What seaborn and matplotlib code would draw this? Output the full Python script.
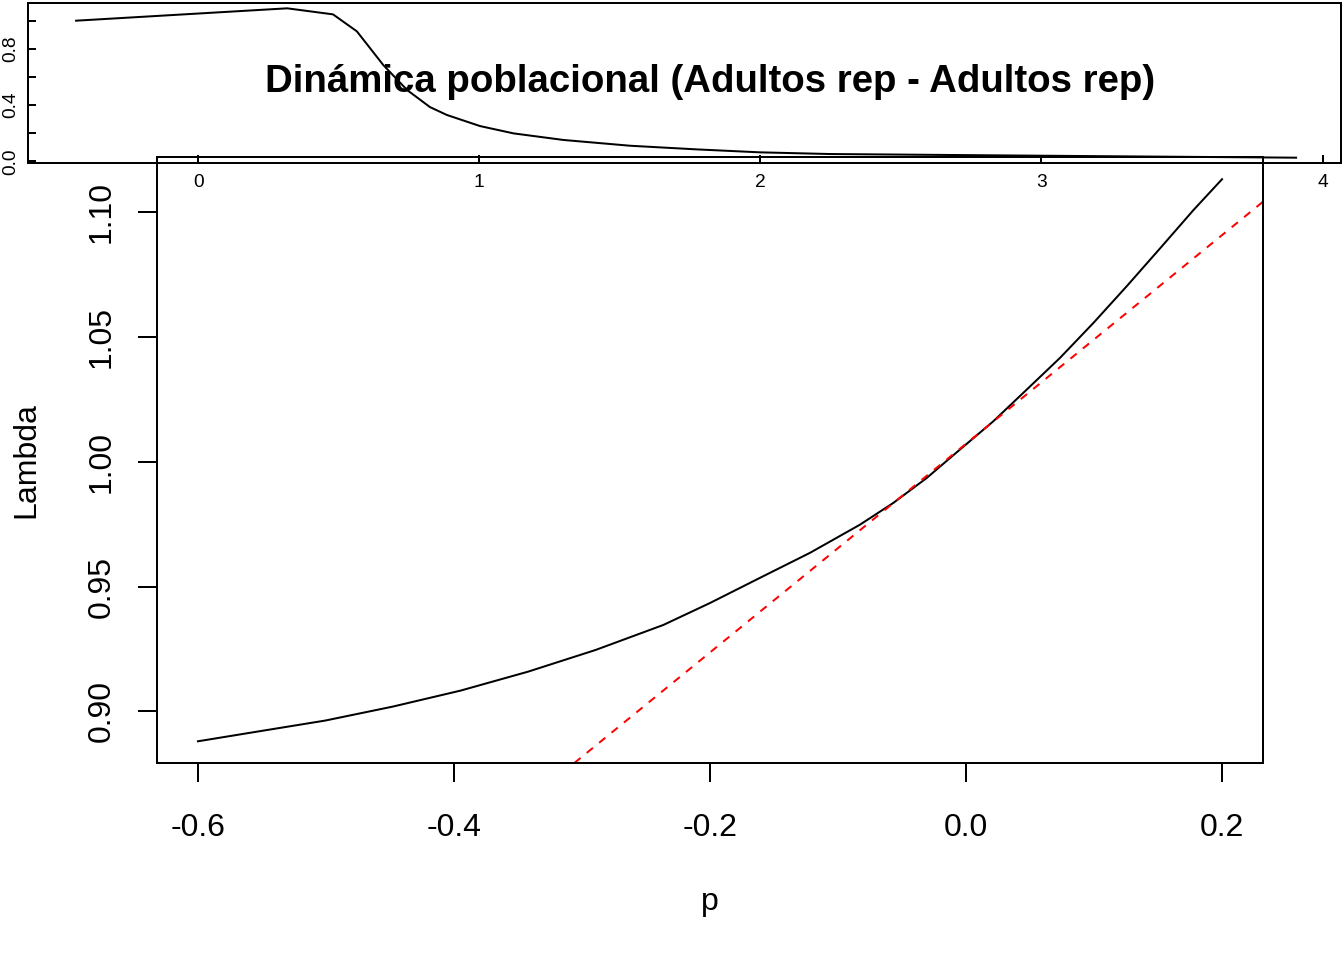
import matplotlib
matplotlib.use("Agg")
import matplotlib.pyplot as plt
import seaborn as sns
import pandas as pd

# ---- data ----
p_vals = [-0.6, -0.5534, -0.5006, -0.4478, -0.3949, -0.3421, -0.2893, -0.2365, -0.2,
          -0.1609, -0.1219, -0.0828, -0.0568, -0.0307, -0.0047, 0.0213, 0.0474,
          0.0734, 0.0995, 0.1255, 0.1516, 0.1776, 0.2]
lambda_vals = [0.8880, 0.8919, 0.8963, 0.9019, 0.9083, 0.9159, 0.9246, 0.9346, 0.9434,
               0.9535, 0.9635, 0.9748, 0.9835, 0.9935, 1.0049, 1.0162, 1.0289,
               1.0416, 1.0556, 1.0703, 1.0855, 1.1008, 1.1132]
tangent_intercept = 1.0072
tangent_slope = 0.418

inset_x = [-0.434, 0.317, 0.480, 0.565, 0.659, 0.744, 0.825, 0.885, 1.003, 1.122,
           1.300, 1.537, 1.774, 1.999, 2.248, 3.0, 3.906]
inset_y = [1.001, 1.089, 1.046, 0.925, 0.685, 0.507, 0.386, 0.330, 0.251, 0.199,
           0.152, 0.111, 0.085, 0.064, 0.052, 0.040, 0.026]

main_xticks = [-0.6, -0.4, -0.2, 0.0, 0.2]
main_xticklabels = ["-0.6", "-0.4", "-0.2", "0.0", "0.2"]
main_yticks = [0.90, 0.95, 1.00, 1.05, 1.10]
main_yticklabels = ["0.90", "0.95", "1.00", "1.05", "1.10"]
inset_xticks = [0, 1, 2, 3, 4]
inset_xticklabels = ["0", "1", "2", "3", "4"]
inset_yticks = [0.0, 0.2, 0.4, 0.6, 0.8, 1.0]
inset_yticklabels = ["0.0", "", "0.4", "", "0.8", ""]

title = "Dinámica poblacional (Adultos rep - Adultos rep)"
xlabel = "p"
ylabel = "Lambda"

# ---- style ----
plt.rcParams['font.family'] = ['Liberation Sans', 'DejaVu Sans']
plt.rcParams['axes.linewidth'] = 0.75
plt.rcParams['axes.edgecolor'] = 'black'

W, H = 1344, 960
fig = plt.figure(figsize=(7, 5), dpi=192)
fig.patch.set_facecolor('white')

# ---- main plot ----
ax = fig.add_axes([157 / W, 1 - 763 / H, (1263 - 157) / W, (763 - 157) / H])
ax.set_facecolor('white')
df_main = pd.DataFrame({"p": p_vals, "Lambda": lambda_vals})
sns.lineplot(data=df_main, x="p", y="Lambda", ax=ax, color='black', linewidth=0.75,
             estimator=None)
ax.axline((0, tangent_intercept), slope=tangent_slope, color='#FF0000',
          linewidth=0.75, dashes=(4, 4))
ax.set_xlim(-0.632, 0.232)
ax.set_ylim(0.8793, 1.1221)
ax.set_xticks(main_xticks, main_xticklabels)
ax.set_yticks(main_yticks, main_yticklabels, rotation=90, va='center')
ax.tick_params(axis='both', direction='out', length=7.2, width=0.75, labelsize=12,
               colors='black')
ax.tick_params(axis='x', pad=11.4)
ax.tick_params(axis='y', pad=7.9)
ax.set_xlabel(xlabel, fontsize=12)
ax.set_ylabel(ylabel, fontsize=12)
ax.xaxis.set_label_coords(0.5, (763 - 887) / 606)
ax.yaxis.set_label_coords((41.1 - 157) / 1106, 0.5)

# ---- inset ----
ax2 = fig.add_axes([28 / W, 1 - 163.3 / H, (1340.5 - 28) / W, (163.3 - 2.7) / H])
ax2.set_facecolor('none')
ax2.set_zorder(3)
df_in = pd.DataFrame({"x": inset_x, "y": inset_y})
sns.lineplot(data=df_in, x="x", y="y", ax=ax2, color='black', linewidth=0.75,
             estimator=None)
ax2.set_xlim(-0.605, 4.064)
ax2.set_ylim(-0.014, 1.129)
ax2.set_xticks(inset_xticks, inset_xticklabels)
ax2.set_yticks(inset_yticks, inset_yticklabels, rotation=90, va='center')
ax2.tick_params(axis='both', direction='in', length=3, width=0.75, labelsize=7.2,
                colors='black')
ax2.tick_params(axis='x', pad=4.0)
ax2.tick_params(axis='y', pad=3.45)
ax2.set_xlabel("")
ax2.set_ylabel("")

# ---- title ----
fig.text(710 / W, 1 - 92.3 / H, title, ha='center', va='baseline',
         fontsize=14.4, fontweight='bold', zorder=2)

fig.savefig("out.png", dpi=192)
